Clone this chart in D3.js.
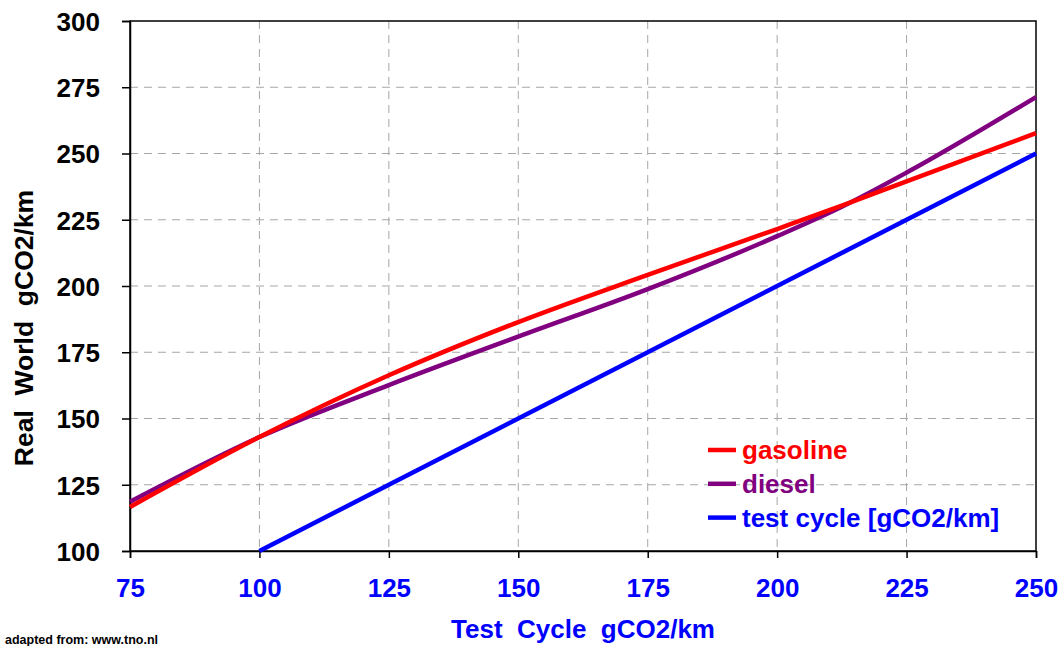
<!DOCTYPE html>
<html><head><meta charset="utf-8">
<script src="https://cdn.jsdelivr.net/npm/d3@7"></script>
<style>
body{margin:0;background:#fff;}
text{font-family:"Liberation Sans",Arial,sans-serif;font-weight:bold;}
</style></head>
<body><svg id="c" width="1061" height="646"></svg>
<script>
const testCycle = [75, 100, 125, 150, 175, 200, 212.5, 225, 250];
const gasoline = [116.6, 143.0, 166.3, 186.4, 204.2, 221.5, 230.3, 239.5, 257.7];
const diesel = [118.6, 143.0, 162.6, 180.9, 198.8, 218.8, 229.9, 242.8, 271.3];
const testLineX = [100, 250];
const testLineY = [100, 250];
const xTicks = [75, 100, 125, 150, 175, 200, 225, 250];
const yTicks = [100, 125, 150, 175, 200, 225, 250, 275, 300];
const seriesNames = ["gasoline", "diesel", "test cycle [gCO2/km]"];
const seriesColors = ["#ff0000", "#800080", "#0000ff"];

const svg = d3.select("#c");
const L = 130, R = 1036, T = 21, B = 551;
const x = d3.scaleLinear().domain([75, 250]).range([L, R]);
const y = d3.scaleLinear().domain([100, 300]).range([B, T]);

// grid
const g = svg.append("g");
g.selectAll(".vg").data(xTicks.slice(1, -1)).enter().append("line")
  .attr("x1", d => x(d)).attr("x2", d => x(d)).attr("y1", T).attr("y2", B)
  .attr("stroke", "#a6a6a6").attr("stroke-width", 1).attr("stroke-dasharray", "8,6");
g.selectAll(".hg").data(yTicks.slice(1, -1)).enter().append("line")
  .attr("y1", d => y(d)).attr("y2", d => y(d)).attr("x1", L).attr("x2", R)
  .attr("stroke", "#a6a6a6").attr("stroke-width", 1).attr("stroke-dasharray", "8,6");

// frame
svg.append("rect").attr("x", L).attr("y", T).attr("width", R - L).attr("height", B - T)
  .attr("fill", "none").attr("stroke", "#000").attr("stroke-width", 1.5);

// axes
const yAxis = svg.append("g").attr("transform", `translate(${L},0)`)
  .call(d3.axisLeft(y).tickValues(yTicks).tickSize(8).tickPadding(22).tickFormat(d3.format("d")));
yAxis.select(".domain").attr("stroke", "#000").attr("stroke-width", 1.5);
yAxis.selectAll("line").attr("stroke", "#000").attr("stroke-width", 1.5);
yAxis.selectAll("text").attr("font-size", 26).attr("fill", "#000")
  .attr("font-family", "Liberation Sans, Arial, sans-serif").attr("font-weight", "bold")
  .attr("dy", "0.36em");

const xAxis = svg.append("g").attr("transform", `translate(0,${B})`)
  .call(d3.axisBottom(x).tickValues(xTicks).tickSize(7).tickPadding(21).tickFormat(d3.format("d")));
xAxis.select(".domain").attr("stroke", "#000").attr("stroke-width", 1.5);
xAxis.selectAll("line").attr("stroke", "#000").attr("stroke-width", 1.5);
xAxis.selectAll("text").attr("font-size", 26).attr("fill", "#0000ff")
  .attr("font-family", "Liberation Sans, Arial, sans-serif").attr("font-weight", "bold")
  .attr("dy", "0.71em");

// lines
const line = d3.line().x(d => x(d[0])).y(d => y(d[1])).curve(d3.curveMonotoneX);
svg.append("path").datum(testLineX.map((v, i) => [v, testLineY[i]]))
  .attr("d", line).attr("fill", "none").attr("stroke", seriesColors[2]).attr("stroke-width", 4.5);
svg.append("path").datum(testCycle.map((v, i) => [v, diesel[i]]))
  .attr("d", line).attr("fill", "none").attr("stroke", seriesColors[1]).attr("stroke-width", 4.5);
svg.append("path").datum(testCycle.map((v, i) => [v, gasoline[i]]))
  .attr("d", line).attr("fill", "none").attr("stroke", seriesColors[0]).attr("stroke-width", 4.5);

// legend
const lg = svg.append("g");
seriesNames.forEach((n, i) => {
  const yy = 450 + i * 33.8;
  lg.append("line").attr("x1", 708).attr("x2", 736).attr("y1", yy).attr("y2", yy)
    .attr("stroke", seriesColors[i]).attr("stroke-width", 4.5);
  lg.append("text").attr("x", 742).attr("y", yy + 9).attr("font-size", 26)
    .attr("fill", seriesColors[i]).text(n);
});

// titles
svg.append("text").attr("x", 583).attr("y", 638).attr("text-anchor", "middle")
  .attr("font-size", 26).attr("fill", "#0000ff").attr("xml:space", "preserve")
  .style("white-space", "pre").text("Test  Cycle  gCO2/km");
svg.append("text").attr("transform", "translate(33,328) rotate(-90)").attr("text-anchor", "middle")
  .attr("font-size", 26.5).attr("fill", "#000").style("white-space", "pre")
  .text("Real  World  gCO2/km");
svg.append("text").attr("x", 5).attr("y", 644).attr("font-size", 12.5).attr("fill", "#000")
  .text("adapted from: www.tno.nl");
</script></body></html>
